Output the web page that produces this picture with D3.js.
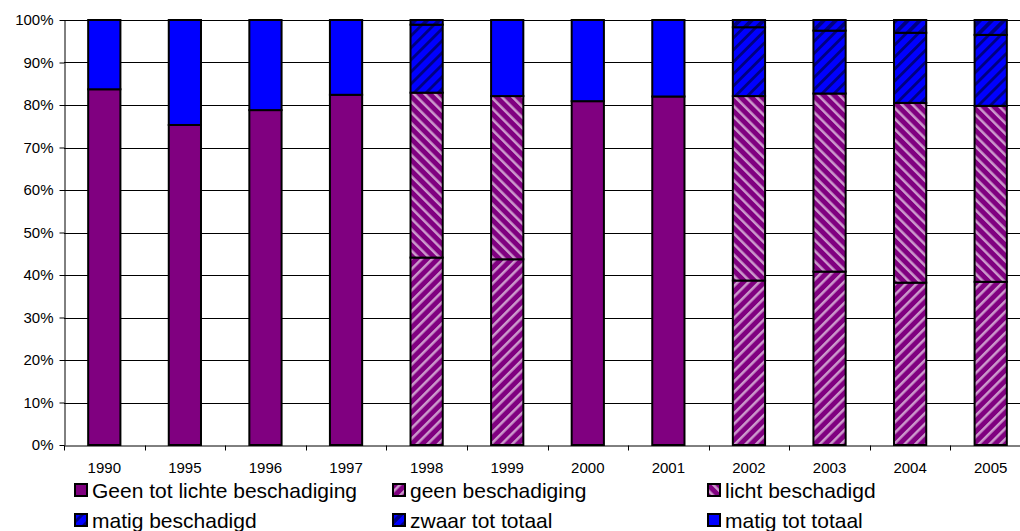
<!DOCTYPE html>
<html>
<head>
<style>
  body {
    margin: 0;
    background-color: #fff;
  }
  svg {
    display: block;
    font-family: 'Liberation Sans', Arial, sans-serif;
  }
</style>
<script src="https://d3js.org/d3.v7.min.js"></script>
</head>
<body>
<script>
  const years = ['1990', '1995', '1996', '1997', '1998', '1999', '2000', '2001', '2002', '2003', '2004', '2005'];

  // percentages per series, one value per year
  const geenTotLicht   = [83.7, 75.3, 78.8, 82.4, 0, 0, 80.9, 82.0, 0, 0, 0, 0];
  const geen           = [0, 0, 0, 0, 44.1, 43.7, 0, 0, 38.7, 40.8, 38.2, 38.4];
  const licht          = [0, 0, 0, 0, 38.8, 38.4, 0, 0, 43.4, 41.9, 42.3, 41.4];
  const matig          = [0, 0, 0, 0, 16.0, 0, 0, 0, 16.2, 14.8, 16.5, 16.7];
  const zwaar          = [0, 0, 0, 0, 1.1, 0, 0, 0, 1.7, 2.5, 3.0, 3.5];
  const matigTotTotaal = [16.3, 24.7, 21.2, 17.6, 0, 17.9, 19.1, 18.0, 0, 0, 0, 0];

  const seriesNames = ['Geen tot lichte beschadiging', 'geen beschadiging', 'licht beschadigd',
    'matig beschadigd', 'zwaar tot totaal', 'matig tot totaal'];
  const yTicks = [0, 10, 20, 30, 40, 50, 60, 70, 80, 90, 100];

  const keys = ['geenTotLicht', 'geen', 'licht', 'matig', 'zwaar', 'matigTotTotaal'];
  const columns = [geenTotLicht, geen, licht, matig, zwaar, matigTotTotaal];

  const rows = years.map((year, i) => {
    const row = { year: year };
    keys.forEach((k, j) => { row[k] = columns[j][i]; });
    return row;
  });

  const width = 1020;
  const height = 531;
  const plot = { left: 64, right: 1031, top: 20, bottom: 445 };

  const svg = d3.select('body')
    .append('svg')
    .attr('width', width)
    .attr('height', height);

  // hatch patterns
  const defs = svg.append('defs');
  const makeStripes = (id, bg, fg, size, stripe, angle) => {
    const p = defs.append('pattern')
      .attr('id', id)
      .attr('patternUnits', 'userSpaceOnUse')
      .attr('width', size)
      .attr('height', size)
      .attr('patternTransform', `rotate(${angle})`);
    p.append('rect').attr('width', size).attr('height', size).attr('fill', bg);
    p.append('rect').attr('x', 0).attr('width', stripe).attr('height', size).attr('fill', fg);
  };
  makeStripes('pGeen', '#800080', '#cc99cc', 7.5, 2.5, 45);
  makeStripes('pLicht', '#800080', '#cc99cc', 7.5, 2.5, -45);
  makeStripes('pMatig', '#0000ff', '#000080', 8.5, 2.8, 45);
  makeStripes('pZwaar', '#0000ff', '#000080', 8.5, 3.8, 45);

  const fills = {
    geenTotLicht: '#800080',
    geen: 'url(#pGeen)',
    licht: 'url(#pLicht)',
    matig: 'url(#pMatig)',
    zwaar: 'url(#pZwaar)',
    matigTotTotaal: '#0000ff',
  };

  const x = d3.scaleBand()
    .domain(years)
    .range([plot.left, plot.right])
    .paddingInner(0.6)
    .paddingOuter(0.3);

  const xCat = d3.scaleBand()
    .domain(years)
    .range([plot.left, plot.right]);

  const y = d3.scaleLinear()
    .domain([0, 100])
    .range([plot.bottom, plot.top]);

  // gridlines
  svg.append('g')
    .selectAll('line')
    .data(yTicks.filter(t => t > 0))
    .join('line')
    .attr('x1', plot.left)
    .attr('x2', width)
    .attr('y1', d => Math.round(y(d)) + 0.5)
    .attr('y2', d => Math.round(y(d)) + 0.5)
    .attr('stroke', '#000')
    .attr('stroke-width', 1);

  // stacked bars
  const stacked = d3.stack().keys(keys)(rows);

  svg.append('g')
    .selectAll('g')
    .data(stacked)
    .join('g')
    .attr('fill', d => fills[d.key])
    .selectAll('rect')
    .data(d => d.filter(s => s[1] - s[0] > 0))
    .join('rect')
    .attr('x', d => x(d.data.year))
    .attr('width', x.bandwidth())
    .attr('y', d => y(d[1]))
    .attr('height', d => y(d[0]) - y(d[1]))
    .attr('stroke', '#000')
    .attr('stroke-width', 2);

  // y axis
  const yAxis = svg.append('g')
    .attr('transform', `translate(${plot.left + 0.5},0)`)
    .call(d3.axisLeft(y).tickValues(yTicks).tickFormat(d => d + '%').tickSize(5).tickSizeOuter(0));
  yAxis.select('.domain').attr('stroke', '#000');
  yAxis.selectAll('.tick line').attr('stroke', '#000');
  yAxis.selectAll('.tick text')
    .attr('x', -11)
    .attr('fill', '#000')
    .style('font-size', '15px')
    .style('font-family', "'Liberation Sans', Arial, sans-serif");

  // x axis
  const xAxis = svg.append('g')
    .attr('transform', `translate(0,${plot.bottom + 0.5})`)
    .call(d3.axisBottom(xCat).tickSize(0).tickSizeOuter(0));
  xAxis.select('.domain').attr('stroke', '#000');
  xAxis.selectAll('.tick text')
    .attr('y', 17)
    .attr('fill', '#000')
    .style('font-size', '15px')
    .style('font-family', "'Liberation Sans', Arial, sans-serif");

  xAxis.append('g')
    .selectAll('line')
    .data(years)
    .join('line')
    .attr('x1', d => Math.round(xCat(d)) + 0.5)
    .attr('x2', d => Math.round(xCat(d)) + 0.5)
    .attr('y1', 0)
    .attr('y2', 5)
    .attr('stroke', '#000');

  // legend
  const legendCols = [74, 392, 707];
  const legendRows = [491, 521];
  const legend = svg.append('g')
    .selectAll('g')
    .data(keys)
    .join('g')
    .attr('transform', (d, i) => `translate(${legendCols[i % 3]},${legendRows[Math.floor(i / 3)]})`);

  legend.append('rect')
    .attr('x', 1)
    .attr('y', -7)
    .attr('width', 12)
    .attr('height', 12)
    .attr('fill', d => fills[d])
    .attr('stroke', '#000')
    .attr('stroke-width', 2);

  legend.append('text')
    .attr('x', 18)
    .attr('y', 0)
    .attr('dy', '0.35em')
    .style('font-size', '21px')
    .attr('fill', '#000')
    .text((d, i) => seriesNames[i]);
</script>
</body>
</html>
